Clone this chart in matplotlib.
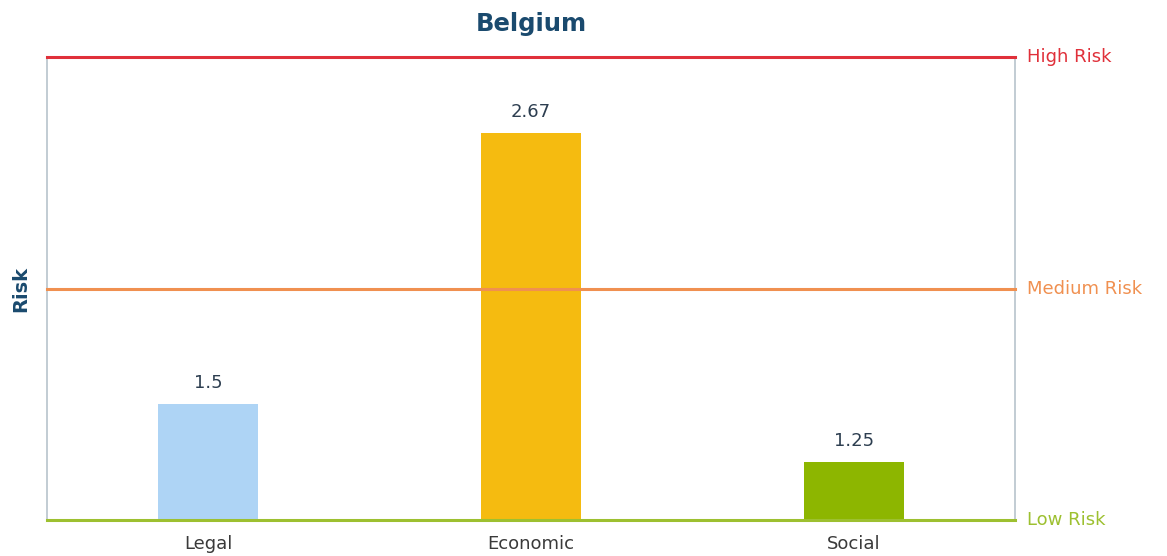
import matplotlib
matplotlib.use("Agg")
import matplotlib.pyplot as plt

# risk scores per category (1 = low, 2 = medium, 3 = high)
categories = ["Legal", "Economic", "Social"]
scores = [1.5, 2.67, 1.25]
bar_colors = ["#aed4f5", "#f5bb10", "#8db600"]

levels = [1, 2, 3]
level_names = ["Low Risk", "Medium Risk", "High Risk"]
level_colors = ["#9dc030", "#f09050", "#e0303a"]

plt.rcParams["font.family"] = ["DejaVu Sans"]

fig = plt.figure(figsize=(11.67, 5.56), dpi=100)
ax = fig.add_axes([0.0403, 0.0647, 0.8295, 0.8327])

x = range(len(categories))
ax.bar(x, [s - 1 for s in scores], bottom=1, width=0.31, color=bar_colors, zorder=2)
for xi, s in zip(x, scores):
    ax.annotate(f"{s:g}", (xi, s), xytext=(0, 9), textcoords="offset points",
                ha="center", va="bottom", fontsize=13, color="#2d3e50")

# threshold lines with labels on the right
for lv, name, c in zip(levels, level_names, level_colors):
    ax.axhline(lv, color=c, lw=2.2, zorder=3, clip_on=False)
    ax.text(1.012, lv, name, transform=ax.get_yaxis_transform(), color=c,
            fontsize=13, va="center", ha="left")

ax.set_xlim(-0.5, 2.5)
ax.set_ylim(1, 3)
ax.set_xticks(list(x))
ax.set_xticklabels(categories, fontsize=13, color="#3a3a3a")
ax.tick_params(axis="x", length=0, pad=11)
ax.set_yticks([])
for side in ["top", "bottom"]:
    ax.spines[side].set_visible(False)
for side in ["left", "right"]:
    ax.spines[side].set_color("#b8c4cc")
    ax.spines[side].set_linewidth(1.2)

ax.set_ylabel("Risk", fontsize=14, fontweight="bold", color="#1a4a6e", labelpad=12)
fig.text(0.455, 0.957, "Belgium", ha="center", va="center", fontsize=17.5,
         fontweight="bold", color="#1a4a6e")

fig.savefig("out.png", dpi=100)
